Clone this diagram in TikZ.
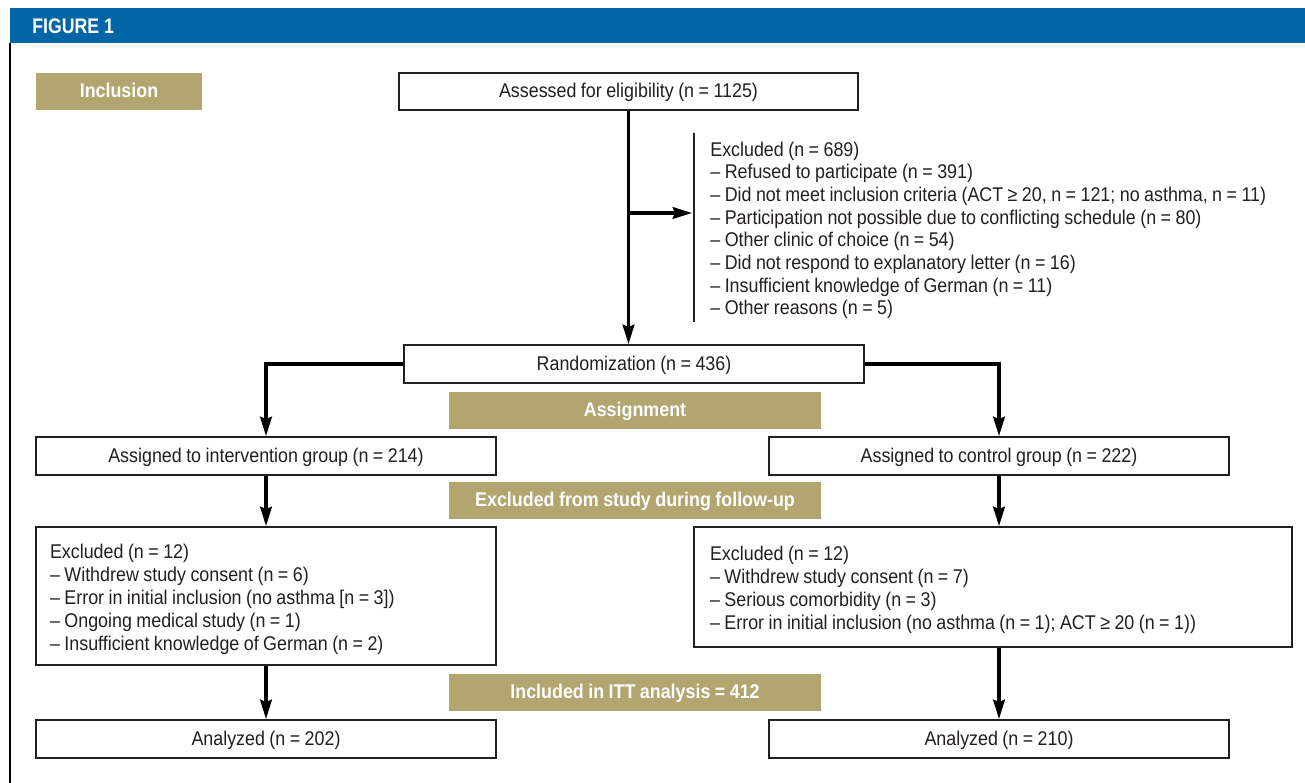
\documentclass[tikz,border=0pt]{standalone}
\usepackage{fontspec}
\setmainfont{Liberation Sans}[FakeStretch=0.9,WordSpace=0.9]
\newfontfamily\headfont{Liberation Sans}[FakeStretch=0.84]
\usetikzlibrary{arrows.meta,positioning}
\definecolor{hdrblue}{RGB}{0,102,166}
\definecolor{tan}{RGB}{178,165,112}
\definecolor{ink}{RGB}{35,31,32}
\newcommand{\topstrut}{\rule{0pt}{11.5pt}}
\begin{document}
\begin{tikzpicture}[x=0.02cm,y=-0.02cm,
  box/.style={draw=ink,line width=0.85pt,fill=white,text=ink,minimum width=9.2cm,minimum height=0.76cm,inner sep=0pt,text height=0.93em,text depth=0.2em,font=\fontsize{11.3}{13.1}\selectfont},
  lbox/.style={draw=ink,line width=0.85pt,text=ink,align=flush left,inner xsep=0.3cm,inner ysep=0pt,font=\fontsize{11.3}{13.1}\selectfont},
  tanbox/.style={fill=tan,text=white,minimum width=7.44cm,minimum height=0.74cm,inner sep=0pt,text height=0.93em,text depth=0.2em,font=\fontsize{11.3}{13}\selectfont\bfseries},
  arr/.style={line width=2.2pt,-{Stealth[length=11pt,width=6.5pt,inset=1.2pt]}}]
\useasboundingbox (0,0) rectangle (1305,783);
% header
\fill[hdrblue] (10,8) rectangle (1305,43);
\node[anchor=west,text=white,inner sep=0pt,font=\headfont\fontsize{12}{14}\selectfont\bfseries] (fig) at (32,26) {FIGURE 1};
\draw[line width=1.2pt] (10,43) -- (10,783);
% tan labels
\node[tanbox,minimum width=3.32cm] (incl) at (119,91.5) {Inclusion};
\node[tanbox] (assign) at (635,410.5) {Assignment};
\node[tanbox] (follow) at (635,500.5) {Excluded from study during follow-up};
\node[tanbox] (itt) at (635,692.5) {Included in ITT analysis = 412};
% boxes
\node[box,minimum width=9.18cm,minimum height=0.74cm] (assess) at (628.5,91.5) {Assessed for eligibility (n = 1125)};
\node[box] (rand) at (634,364) {Randomization (n = 436)};
\node[box] (interv) at (266,456) {Assigned to intervention group (n = 214)};
\node[box] (ctrl) at (999,456) {Assigned to control group (n = 222)};
\node[lbox,text width=8.64cm,inner xsep=0.28cm,minimum height=2.76cm] (ex1) at (266,596) {\topstrut Excluded (n = 12)\\
– Withdrew study consent (n = 6)\\
– Error in initial inclusion (no asthma [n = 3])\\
– Ongoing medical study (n = 1)\\
– Insufficient knowledge of German (n = 2)};
\node[lbox,text width=11.32cm,inner xsep=0.32cm,minimum height=2.4cm] (ex2) at (993,587) {\topstrut Excluded (n = 12)\\
– Withdrew study consent (n = 7)\\
– Serious comorbidity (n = 3)\\
– Error in initial inclusion (no asthma (n = 1); ACT ≥ 20 (n = 1))};
\node[box] (an1) at (266,739) {Analyzed (n = 202)};
\node[box] (an2) at (999,739) {Analyzed (n = 210)};
% excluded list
\node[anchor=west,align=left,text=ink,inner xsep=0.32cm,inner ysep=0pt,minimum height=3.78cm,font=\fontsize{11.3}{12.9}\selectfont] (excl) at (694,227.5) {\topstrut Excluded (n = 689)\\
– Refused to participate (n = 391)\\
– Did not meet inclusion criteria (ACT ≥ 20, n = 121; no asthma, n = 11)\\
– Participation not possible due to conflicting schedule (n = 80)\\
– Other clinic of choice (n = 54)\\
– Did not respond to explanatory letter (n = 16)\\
– Insufficient knowledge of German (n = 11)\\
– Other reasons (n = 5)};
\draw[ink,line width=0.85pt] (excl.north west) -- (excl.south west);
% connectors
\draw[arr] (assess.south) -- (assess.south |- rand.north);
\coordinate (br) at (628.5,213);
\draw[arr] (br) -- ([xshift=-1pt]br -| excl.west);
\draw[arr] (rand.west) -| (interv.north);
\draw[arr] (rand.east) -| (ctrl.north);
\draw[arr] (interv.south) -- (ex1.north);
\draw[arr] (ctrl.south) -- (ctrl.south |- ex2.north);
\draw[arr] (ex1.south) -- (an1.north);
\draw[arr] (ex2.south -| an2.north) -- (an2.north);
\end{tikzpicture}
\end{document}
